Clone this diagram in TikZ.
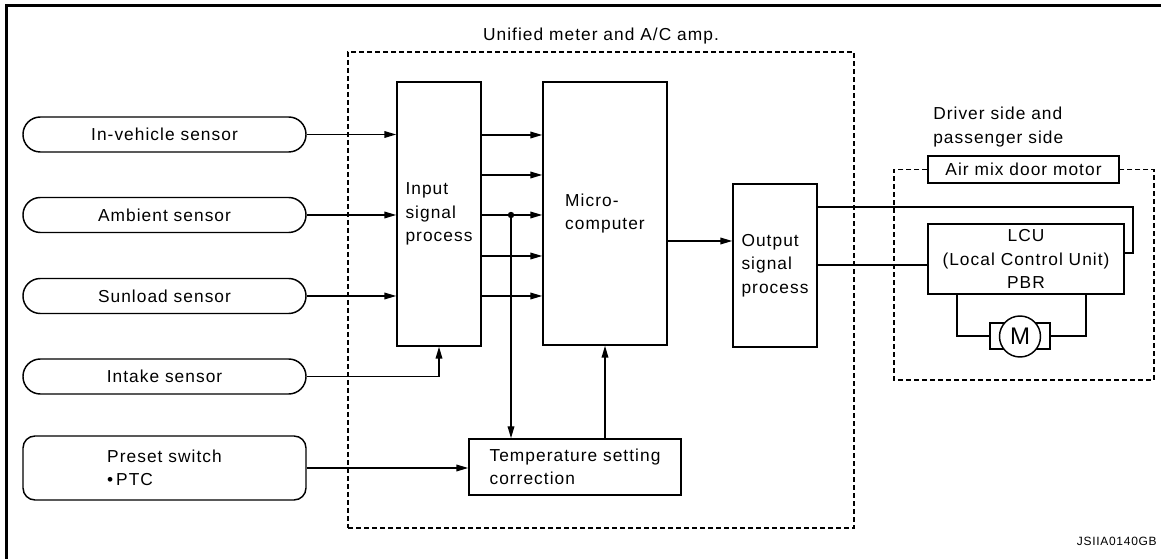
\documentclass[tikz,border=0pt]{standalone}
\usepackage{fontspec}
\setmainfont{Liberation Sans}[LetterSpace=6]
\usetikzlibrary{arrows.meta,positioning,calc}
\tikzset{
 block/.style={draw, line width=1.1pt, inner sep=0pt, align=left},
 sensor/.style={draw, line width=1.1pt, rounded corners=13pt, minimum width=212.25pt, minimum height=26.25pt, inner sep=0pt},
 arrow/.style={-{Triangle[length=9pt,width=5pt]}, line width=1.1pt},
 wire/.style={line width=1.1pt},
 dashbox/.style={draw, line width=1pt, dash pattern=on 3.75pt off 2.25pt}
}

\begin{document}
\begin{tikzpicture}[x=0.75pt,y=-0.75pt,font=\fontsize{13}{17.6}\selectfont]
\useasboundingbox (0,0) rectangle (1161,559);
% frame
\draw[line width=2.5pt] (6.5,559) -- (6.5,5.5) -- (1161,5.5);

% A/C amp
\node[dashbox, minimum width=379.5pt, minimum height=357pt] (amp) at (601,290) {};
\node (amptitle) at (601,36) {Unified meter and A/C amp.};

% sensors
\node[sensor] (invs) at (164.5,134.5) {In-vehicle sensor};
\node[sensor] (amb) at (164.5,215) {Ambient sensor};
\node[sensor] (sun) at (164.5,296) {Sunload sensor};
\node[sensor] (intake) at (164.5,376.5) {Intake sensor};
\node[sensor, rounded corners=9pt, minimum height=48pt, align=left] (preset) at (164.5,468) {Preset switch\\•\,PTC};

% amp blocks
\node[block, minimum width=63pt, minimum height=198pt] (input) at (439,214) {Input\\signal\\process};
\node[block, minimum width=93pt, minimum height=197.25pt] (micro) at (605,213.5) {Micro-\\computer};
\node[block, minimum width=63pt, minimum height=122.25pt] (output) at (775,265.5) {Output\\signal\\process};
\node[block, minimum width=159pt, minimum height=42pt] (temp) at (575,467) {Temperature setting\\correction};

% door motor
\node[align=left, anchor=west, inner sep=0pt] (side) at (933,127) {Driver side and\\passenger side};
\node[block, minimum width=143.25pt, minimum height=20.25pt, align=center] (airmix) at (1023.5,169.5) {Air mix door motor};
\node[block, minimum width=147pt, minimum height=52.5pt, align=center] (lcu) at (1026,259) {LCU\\(Local Control Unit)\\PBR};
\draw[dashbox] (airmix.west) -- (894,169.5) -- (894,380) -- (1154,380) -- (1154,169.5) -- (airmix.east);
\node[block, minimum width=45pt, minimum height=19.5pt] (motbox) at (1020,336) {};
\node[draw, circle, line width=1.1pt, fill=white, minimum size=30.75pt, inner sep=0pt, font=\fontsize{18}{20}\selectfont] (motor) at (1020,336.5) {M};

% connectors
\draw[arrow] (invs.east) -- (invs.east -| input.west);
\draw[arrow] (amb.east) -- (amb.east -| input.west);
\draw[arrow] (sun.east) -- (sun.east -| input.west);
\draw[arrow] (intake.east) -| (input.south);
\draw[arrow] (preset.east) -- (preset.east -| temp.west);
\foreach \y in {135,175,215,256,296}
  \draw[arrow] (input.east |- 0,\y) -- (micro.west |- 0,\y);
\coordinate (jct) at (511,215);
\fill (jct) circle (2.4pt);
\draw[arrow] (jct) -- (jct |- temp.north);
\draw[arrow] (temp.north -| micro.south) -- (micro.south);
\draw[arrow] (micro.east |- 0,241) -- (output.west |- 0,241);
\draw[wire] (output.east |- 0,207) -| (1133,253) -- (lcu.east |- 0,253);
\draw[wire] (output.east |- 0,265) -- (lcu.west |- 0,265);
\draw[wire] (lcu.south -| 957,0) -- (957,336) -- (motbox.west);
\draw[wire] (lcu.south -| 1086,0) -- (1086,336) -- (motbox.east);

\node[anchor=east, inner sep=0pt, font=\fontsize{9}{10}\selectfont] (ref) at (1157,541) {JSIIA0140GB};
\end{tikzpicture}
\end{document}
